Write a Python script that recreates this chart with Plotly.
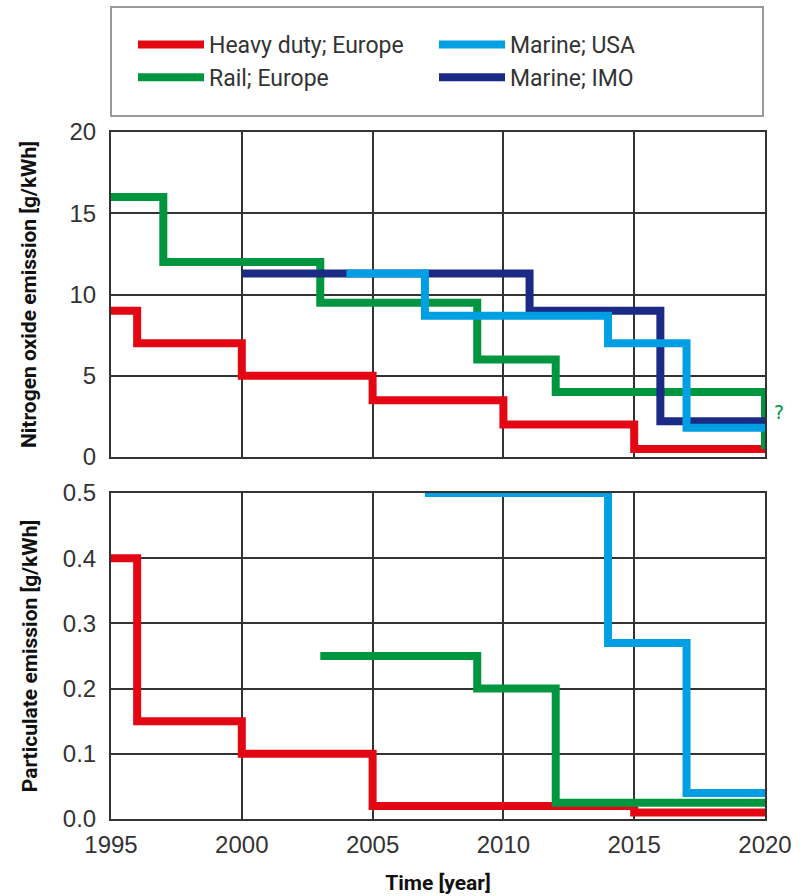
import plotly.graph_objects as go

# ---------------- data ----------------
series_names = ["Heavy duty; Europe", "Rail; Europe", "Marine; IMO", "Marine; USA"]
series_colors = ["#e30613", "#009640", "#1b2a84", "#009fe3"]
legend_ranks = [1, 3, 4, 2]

# Nitrogen oxide emission [g/kWh] (step start years, values)
nox_heavy_x = [1995, 1996, 2000, 2005, 2010, 2015, 2020]
nox_heavy_y = [9, 7, 5, 3.5, 2, 0.5, 0.5]
nox_rail_x = [1995, 1997, 2003, 2009, 2012, 2020, 2020]
nox_rail_y = [16, 12, 9.5, 6, 4, 4, 0.5]
nox_imo_x = [2000, 2011, 2016, 2020]
nox_imo_y = [11.3, 9, 2.2, 2.2]
nox_usa_x = [2004, 2007, 2014, 2017, 2020]
nox_usa_y = [11.3, 8.7, 7, 1.8, 1.8]

# Particulate emission [g/kWh]
pm_heavy_x = [1995, 1996, 2000, 2005, 2015, 2020]
pm_heavy_y = [0.4, 0.15, 0.1, 0.02, 0.01, 0.01]
pm_rail_x = [2003, 2009, 2012, 2020]
pm_rail_y = [0.25, 0.2, 0.025, 0.025]
pm_usa_x = [2007, 2014, 2017, 2020]
pm_usa_y = [0.5, 0.27, 0.04, 0.04]

x_ticks = [1995, 2000, 2005, 2010, 2015, 2020]
nox_ticks = [0, 5, 10, 15, 20]
pm_ticks = [0.0, 0.1, 0.2, 0.3, 0.4, 0.5]

# ---------------- figure ----------------
W, H = 804, 896
fig = go.Figure()

nox = [(nox_heavy_x, nox_heavy_y), (nox_rail_x, nox_rail_y), (nox_imo_x, nox_imo_y), (nox_usa_x, nox_usa_y)]
pm = {0: (pm_heavy_x, pm_heavy_y), 1: (pm_rail_x, pm_rail_y), 3: (pm_usa_x, pm_usa_y)}

LW = 8
for i, (xs, ys) in enumerate(nox):
    fig.add_trace(go.Scatter(
        x=xs, y=ys, mode="lines", line=dict(color=series_colors[i], width=LW, shape="hv"),
        name=series_names[i], legendgroup=series_names[i], legendrank=legend_ranks[i],
        xaxis="x", yaxis="y", showlegend=True, hoverinfo="skip"))
for i in [0, 1, 3]:
    xs, ys = pm[i]
    fig.add_trace(go.Scatter(
        x=xs, y=ys, mode="lines", line=dict(color=series_colors[i], width=LW, shape="hv"),
        name=series_names[i], legendgroup=series_names[i], legendrank=legend_ranks[i],
        xaxis="x2", yaxis="y2", showlegend=False, hoverinfo="skip"))

x0p, x1p = 111 / W, 765 / W
top_dom = [1 - 457 / H, 1 - 132 / H]
bot_dom = [1 - 819 / H, 1 - 493 / H]

tick_font = dict(family="Liberation Sans", size=24, color="#333333")
title_font = dict(family="Roboto", size=21, color="#111111", weight="bold")
axis_common = dict(showgrid=True, gridcolor="#333333", gridwidth=1.5,
                   showline=True, linecolor="#333333", linewidth=2, mirror=True,
                   zeroline=False, automargin=False, tickfont=tick_font)

fig.update_layout(
    width=W, height=H,
    margin=dict(l=0, r=0, t=0, b=0),
    paper_bgcolor="white", plot_bgcolor="white",
    showlegend=True,
    xaxis=dict(domain=[x0p, x1p], anchor="y", range=[1995, 2020], tickvals=x_ticks,
               showticklabels=False, ticks="", **axis_common),
    yaxis=dict(domain=top_dom, anchor="x", range=[0, 20], tickvals=nox_ticks,
               ticks="outside", ticklen=8, tickcolor="rgba(0,0,0,0)",
               title=dict(text="Nitrogen oxide emission [g/kWh]", font=title_font, standoff=27),
               **axis_common),
    xaxis2=dict(domain=[x0p, x1p], anchor="y2", range=[1995, 2020], tickvals=x_ticks,
                ticks="outside", ticklen=3, tickcolor="rgba(0,0,0,0)",
                title=dict(text="Time [year]", font=title_font, standoff=19),
                **axis_common),
    yaxis2=dict(domain=bot_dom, anchor="x2", range=[0, 0.5], tickvals=pm_ticks,
                tickformat=".1f", ticks="outside", ticklen=8, tickcolor="rgba(0,0,0,0)",
                title=dict(text="Particulate emission [g/kWh]", font=title_font, standoff=19),
                **axis_common),
    legend=dict(orientation="h", x=133 / W, xanchor="left", y=1 - 23 / H, yanchor="top",
                font=dict(family="Roboto", size=23, color="#333333"),
                itemwidth=66, entrywidth=220, entrywidthmode="pixels",
                bgcolor="rgba(0,0,0,0)", borderwidth=0, traceorder="normal"),
    shapes=[dict(type="rect", xref="paper", yref="paper",
                 x0=111 / W, x1=763 / W, y0=1 - 116 / H, y1=1 - 7 / H,
                 line=dict(color="#999999", width=2), fillcolor="rgba(0,0,0,0)")],
    annotations=[dict(text="?", x=2020, y=2.8, xref="x", yref="y", xanchor="left",
                      xshift=7, showarrow=False,
                      font=dict(family="DejaVu Sans", size=19, color="#009640"))],
)

fig.write_html("out.html", config={"displayModeBar": False},
               post_script="document.body.style.margin='0';")
